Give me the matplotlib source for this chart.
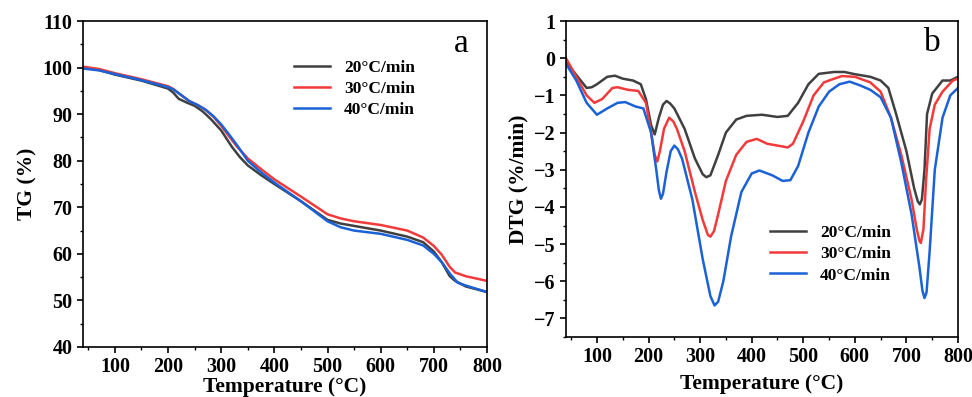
import numpy as np
import matplotlib.pyplot as plt

plt.rcParams['font.family'] = ['Liberation Serif', 'DejaVu Serif']
plt.rcParams['font.weight'] = 'bold'

labels = ['20°C/min', '30°C/min', '40°C/min']
colors = ['#404040', '#f23a3a', '#1a62d6']

# TG (%) curves
tg_t20 = [40, 70, 100, 150, 200, 210, 220, 235, 250, 265, 280, 300, 320, 335, 350, 375, 400, 450, 500, 525, 550, 600,
          650, 680, 700, 715, 730, 740, 760, 800]
tg_v20 = [100, 99.5, 98.5, 97.2, 95.5, 94.6, 93.3, 92.5, 91.8, 90.6, 89, 86.5, 83, 80.8, 79, 76.9, 75, 71.3, 67.3, 66.5,
          66, 65, 63.7, 62.5, 60.5, 58.2, 55.2, 54.2, 53, 51.8]
tg_t30 = [40, 70, 100, 150, 200, 210, 220, 240, 255, 270, 285, 300, 315, 330, 350, 375, 400, 450, 500, 525, 550, 600,
          650, 680, 700, 715, 730, 740, 760, 800]
tg_v30 = [100.2, 99.7, 98.8, 97.5, 96, 95.4, 94.5, 92.8, 92, 91, 89.5, 87.5, 85.2, 83, 80.5, 78.2, 76, 72.3, 68.5,
          67.6, 67, 66.2, 65, 63.5, 61.7, 59.8, 57.2, 56, 55.2, 54.2]
tg_t40 = [40, 70, 100, 150, 200, 210, 220, 240, 255, 270, 285, 300, 315, 330, 350, 375, 400, 450, 500, 525, 550, 600,
          650, 680, 700, 715, 730, 745, 760, 800]
tg_v40 = [99.8, 99.4, 98.6, 97.3, 95.8, 95.3, 94.5, 92.8, 92, 91, 89.6, 87.8, 85.6, 83.3, 80, 77.5, 75.3, 71.3, 67,
          65.7, 65, 64.3, 63, 61.8, 60, 58.2, 55.8, 53.8, 53.2, 51.8]

# DTG (%/min) curves
dtg_t20 = [40, 60, 80, 90, 100, 120, 135, 150, 170, 185, 195, 205, 212, 220, 228, 235, 242, 250, 270, 290, 305, 312,
           320, 335, 350, 370, 390, 420, 450, 470, 490, 510, 530, 560, 580, 600, 630, 650, 665, 680, 700, 715, 722, 726,
           730, 735, 740, 750, 770, 785, 800]
dtg_v20 = [-0.1, -0.45, -0.8, -0.78, -0.7, -0.5, -0.47, -0.55, -0.6, -0.7, -1.1, -1.8, -2.05, -1.6, -1.25, -1.15,
           -1.22, -1.35, -1.9, -2.7, -3.12, -3.2, -3.15, -2.6, -2.0, -1.65, -1.55, -1.52, -1.58, -1.55, -1.2, -0.7,
           -0.42, -0.37, -0.37, -0.43, -0.5, -0.6, -0.8, -1.5, -2.5, -3.5, -3.85, -3.93, -3.8, -3.0, -1.5, -0.95, -0.6,
           -0.6, -0.5]
dtg_t30 = [40, 60, 80, 95, 110, 130, 140, 160, 180, 195, 205, 212, 217, 222, 230, 240, 248, 255, 270, 290, 305, 315,
           320, 327, 335, 350, 370, 390, 410, 430, 450, 470, 480, 500, 520, 540, 560, 575, 600, 630, 650, 670, 690, 710,
           720, 725, 728, 733, 738, 745, 755, 770, 790, 800]
dtg_v30 = [0, -0.5, -1.0, -1.2, -1.1, -0.8, -0.78, -0.85, -0.88, -1.2, -2.0, -2.6, -2.78, -2.5, -1.9, -1.6, -1.7,
           -1.9, -2.5, -3.6, -4.35, -4.75, -4.8, -4.65, -4.2, -3.3, -2.6, -2.25, -2.17, -2.3, -2.35, -2.4, -2.3, -1.7,
           -1.0, -0.65, -0.55, -0.48, -0.5, -0.65, -0.9, -1.6, -2.6, -3.8, -4.6, -4.9, -4.97, -4.6, -3.3, -1.9, -1.25,
           -0.9, -0.6, -0.55]
dtg_t40 = [40, 60, 80, 100, 120, 140, 155, 175, 190, 205, 215, 220, 224, 228, 235, 243, 250, 257, 265, 285, 305, 320,
           328, 335, 345, 360, 380, 400, 415, 440, 460, 475, 490, 510, 530, 550, 570, 590, 610, 630, 650, 670, 690, 710,
           725, 731, 735, 739, 745, 755, 770, 785, 800]
dtg_v40 = [-0.15, -0.6, -1.2, -1.52, -1.35, -1.2, -1.18, -1.3, -1.35, -2.0, -3.0, -3.55, -3.78, -3.65, -3.05, -2.5,
           -2.35, -2.45, -2.7, -3.8, -5.4, -6.4, -6.65, -6.55, -6.0, -4.8, -3.6, -3.1, -3.02, -3.15, -3.3, -3.28, -2.9,
           -2.0, -1.3, -0.9, -0.7, -0.63, -0.73, -0.85, -1.05, -1.6, -2.8, -4.2, -5.6, -6.25, -6.45, -6.3, -5.2, -3.0,
           -1.6, -1.0, -0.8]

fig = plt.figure(figsize=(9.72, 3.97), dpi=100)
ax1 = fig.add_axes([0.0854, 0.126, 0.4156, 0.821])
ax2 = fig.add_axes([0.5823, 0.151, 0.4033, 0.796])

for t, v, lab, c in zip([tg_t20, tg_t30, tg_t40], [tg_v20, tg_v30, tg_v40], labels, colors):
    ax1.plot(t, v, color=c, lw=1.8, label=lab)
for t, v, lab, c in zip([dtg_t20, dtg_t30, dtg_t40], [dtg_v20, dtg_v30, dtg_v40], labels, colors):
    ax2.plot(t, v, color=c, lw=1.8, label=lab)

ax1.set_xlim(40, 800)
ax1.set_ylim(40, 110)
ax1.set_xticks(np.arange(100, 801, 100))
ax1.set_xticks(np.arange(50, 801, 50), minor=True)
ax1.set_yticks(np.arange(40, 111, 10))
ax1.set_yticks(np.arange(40, 111, 5), minor=True)
ax1.set_ylabel('TG (%)', fontsize=15.5, fontweight='bold', labelpad=4)
ax1.set_xlabel('Temperature (°C)', fontsize=15.5, fontweight='bold', labelpad=0)
ax1.text(0.955, 0.93, 'a', transform=ax1.transAxes, fontsize=24, fontweight='normal', ha='right', va='center')
ax1.legend(loc='upper right', bbox_to_anchor=(0.86, 0.93), frameon=False,
           handlelength=2.1, labelspacing=0.3, prop={'weight': 'bold', 'size': 12.5})

ax2.set_xlim(40, 800)
ax2.set_ylim(-7.5, 1)
ax2.set_xticks(np.arange(100, 801, 100))
ax2.set_xticks(np.arange(50, 801, 50), minor=True)
ax2.set_yticks(np.arange(-7, 1.1, 1))
ax2.set_yticks(np.arange(-7.5, 1.1, 0.5), minor=True)
ax2.set_ylabel('DTG (%/min)', fontsize=15.5, fontweight='bold', labelpad=4)
ax2.set_xlabel('Temperature (°C)', fontsize=15.5, fontweight='bold', labelpad=5)
ax2.text(0.955, 0.93, 'b', transform=ax2.transAxes, fontsize=24, fontweight='normal', ha='right', va='center')
ax2.legend(loc='lower left', bbox_to_anchor=(0.48, 0.12), frameon=False,
           handlelength=2.1, labelspacing=0.3, prop={'weight': 'bold', 'size': 12.5})

for ax in (ax1, ax2):
    ax.tick_params(which='both', direction='out', top=False, right=False, labelsize=14.5)
    ax.tick_params(which='major', length=4, width=1.2)
    ax.tick_params(which='minor', length=2, width=1)
    for s in ax.spines.values():
        s.set_linewidth(1.2)

fig.savefig('out.png', dpi=100)
